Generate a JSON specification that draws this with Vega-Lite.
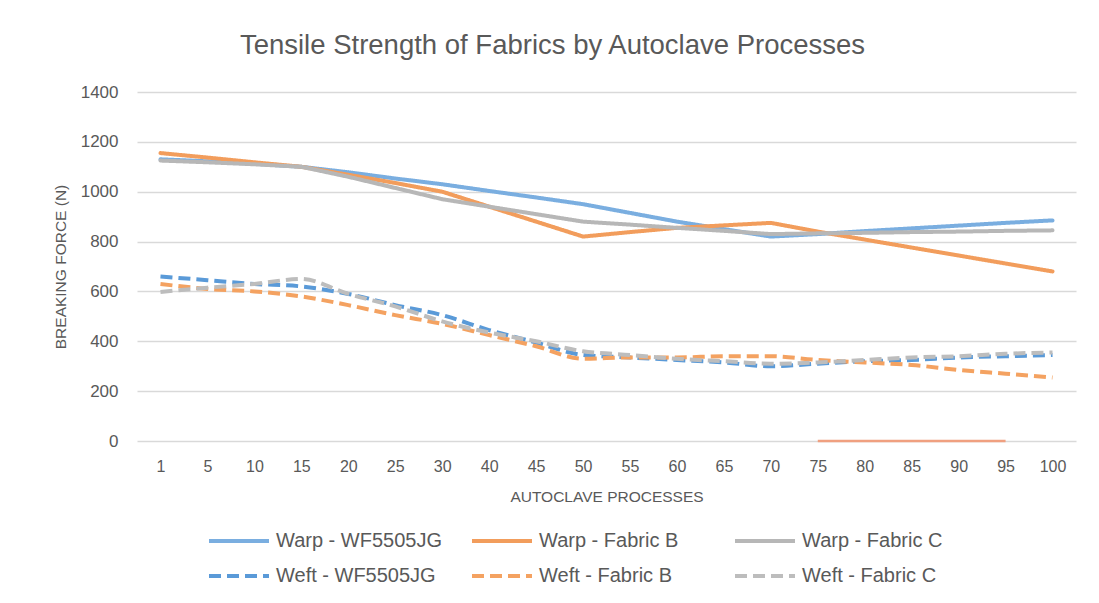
{
  "$schema": "https://vega.github.io/schema/vega-lite/v6.json",
  "width": 939,
  "height": 349,
  "autosize": {"type": "none"},
  "padding": {"left": 137, "top": 92, "right": 23, "bottom": 162},
  "background": "white",
  "title": {"text": "Tensile Strength of Fabrics by Autoclave Processes", "fontSize": 27.5, "font": "Liberation Sans", "fontWeight": "normal", "color": "#595959", "anchor": "middle", "dx": -54, "offset": 24},
  "config": {
    "view": {"stroke": null},
    "font": "Liberation Sans"
  },
  "datasets": {
    "main": [
      {"p": 1, "s": "Warp - WF5505JG", "f": 1130}, {"p": 5, "s": "Warp - WF5505JG", "f": 1122}, {"p": 10, "s": "Warp - WF5505JG", "f": 1112}, {"p": 15, "s": "Warp - WF5505JG", "f": 1100}, {"p": 20, "s": "Warp - WF5505JG", "f": 1078}, {"p": 25, "s": "Warp - WF5505JG", "f": 1053}, {"p": 30, "s": "Warp - WF5505JG", "f": 1030}, {"p": 40, "s": "Warp - WF5505JG", "f": 1003}, {"p": 45, "s": "Warp - WF5505JG", "f": 977}, {"p": 50, "s": "Warp - WF5505JG", "f": 950}, {"p": 55, "s": "Warp - WF5505JG", "f": 915}, {"p": 60, "s": "Warp - WF5505JG", "f": 880}, {"p": 65, "s": "Warp - WF5505JG", "f": 850}, {"p": 70, "s": "Warp - WF5505JG", "f": 820}, {"p": 75, "s": "Warp - WF5505JG", "f": 830}, {"p": 80, "s": "Warp - WF5505JG", "f": 842}, {"p": 85, "s": "Warp - WF5505JG", "f": 853}, {"p": 90, "s": "Warp - WF5505JG", "f": 864}, {"p": 95, "s": "Warp - WF5505JG", "f": 875}, {"p": 100, "s": "Warp - WF5505JG", "f": 885},
      {"p": 1, "s": "Warp - Fabric B", "f": 1155}, {"p": 5, "s": "Warp - Fabric B", "f": 1137}, {"p": 10, "s": "Warp - Fabric B", "f": 1118}, {"p": 15, "s": "Warp - Fabric B", "f": 1100}, {"p": 20, "s": "Warp - Fabric B", "f": 1068}, {"p": 25, "s": "Warp - Fabric B", "f": 1035}, {"p": 30, "s": "Warp - Fabric B", "f": 1000}, {"p": 40, "s": "Warp - Fabric B", "f": 940}, {"p": 45, "s": "Warp - Fabric B", "f": 880}, {"p": 50, "s": "Warp - Fabric B", "f": 820}, {"p": 55, "s": "Warp - Fabric B", "f": 838}, {"p": 60, "s": "Warp - Fabric B", "f": 855}, {"p": 65, "s": "Warp - Fabric B", "f": 865}, {"p": 70, "s": "Warp - Fabric B", "f": 875}, {"p": 75, "s": "Warp - Fabric B", "f": 840}, {"p": 80, "s": "Warp - Fabric B", "f": 808}, {"p": 85, "s": "Warp - Fabric B", "f": 776}, {"p": 90, "s": "Warp - Fabric B", "f": 744}, {"p": 95, "s": "Warp - Fabric B", "f": 712}, {"p": 100, "s": "Warp - Fabric B", "f": 680},
      {"p": 1, "s": "Warp - Fabric C", "f": 1125}, {"p": 5, "s": "Warp - Fabric C", "f": 1118}, {"p": 10, "s": "Warp - Fabric C", "f": 1110}, {"p": 15, "s": "Warp - Fabric C", "f": 1100}, {"p": 20, "s": "Warp - Fabric C", "f": 1060}, {"p": 25, "s": "Warp - Fabric C", "f": 1015}, {"p": 30, "s": "Warp - Fabric C", "f": 970}, {"p": 40, "s": "Warp - Fabric C", "f": 940}, {"p": 45, "s": "Warp - Fabric C", "f": 910}, {"p": 50, "s": "Warp - Fabric C", "f": 880}, {"p": 55, "s": "Warp - Fabric C", "f": 868}, {"p": 60, "s": "Warp - Fabric C", "f": 855}, {"p": 65, "s": "Warp - Fabric C", "f": 843}, {"p": 70, "s": "Warp - Fabric C", "f": 830}, {"p": 75, "s": "Warp - Fabric C", "f": 833}, {"p": 80, "s": "Warp - Fabric C", "f": 835}, {"p": 85, "s": "Warp - Fabric C", "f": 838}, {"p": 90, "s": "Warp - Fabric C", "f": 840}, {"p": 95, "s": "Warp - Fabric C", "f": 843}, {"p": 100, "s": "Warp - Fabric C", "f": 845},
      {"p": 1, "s": "Weft - WF5505JG", "f": 660}, {"p": 5, "s": "Weft - WF5505JG", "f": 645}, {"p": 10, "s": "Weft - WF5505JG", "f": 630}, {"p": 15, "s": "Weft - WF5505JG", "f": 620}, {"p": 20, "s": "Weft - WF5505JG", "f": 590}, {"p": 25, "s": "Weft - WF5505JG", "f": 545}, {"p": 30, "s": "Weft - WF5505JG", "f": 505}, {"p": 40, "s": "Weft - WF5505JG", "f": 445}, {"p": 45, "s": "Weft - WF5505JG", "f": 395}, {"p": 50, "s": "Weft - WF5505JG", "f": 345}, {"p": 55, "s": "Weft - WF5505JG", "f": 335}, {"p": 60, "s": "Weft - WF5505JG", "f": 325}, {"p": 65, "s": "Weft - WF5505JG", "f": 315}, {"p": 70, "s": "Weft - WF5505JG", "f": 300}, {"p": 75, "s": "Weft - WF5505JG", "f": 310}, {"p": 80, "s": "Weft - WF5505JG", "f": 320}, {"p": 85, "s": "Weft - WF5505JG", "f": 325}, {"p": 90, "s": "Weft - WF5505JG", "f": 335}, {"p": 95, "s": "Weft - WF5505JG", "f": 340}, {"p": 100, "s": "Weft - WF5505JG", "f": 345},
      {"p": 1, "s": "Weft - Fabric B", "f": 630}, {"p": 5, "s": "Weft - Fabric B", "f": 610}, {"p": 10, "s": "Weft - Fabric B", "f": 600}, {"p": 15, "s": "Weft - Fabric B", "f": 580}, {"p": 20, "s": "Weft - Fabric B", "f": 545}, {"p": 25, "s": "Weft - Fabric B", "f": 505}, {"p": 30, "s": "Weft - Fabric B", "f": 470}, {"p": 40, "s": "Weft - Fabric B", "f": 425}, {"p": 45, "s": "Weft - Fabric B", "f": 380}, {"p": 50, "s": "Weft - Fabric B", "f": 330}, {"p": 55, "s": "Weft - Fabric B", "f": 335}, {"p": 60, "s": "Weft - Fabric B", "f": 335}, {"p": 65, "s": "Weft - Fabric B", "f": 340}, {"p": 70, "s": "Weft - Fabric B", "f": 340}, {"p": 75, "s": "Weft - Fabric B", "f": 325}, {"p": 80, "s": "Weft - Fabric B", "f": 315}, {"p": 85, "s": "Weft - Fabric B", "f": 305}, {"p": 90, "s": "Weft - Fabric B", "f": 285}, {"p": 95, "s": "Weft - Fabric B", "f": 270}, {"p": 100, "s": "Weft - Fabric B", "f": 255},
      {"p": 1, "s": "Weft - Fabric C", "f": 598}, {"p": 5, "s": "Weft - Fabric C", "f": 615}, {"p": 10, "s": "Weft - Fabric C", "f": 630}, {"p": 15, "s": "Weft - Fabric C", "f": 650}, {"p": 20, "s": "Weft - Fabric C", "f": 590}, {"p": 25, "s": "Weft - Fabric C", "f": 540}, {"p": 30, "s": "Weft - Fabric C", "f": 480}, {"p": 40, "s": "Weft - Fabric C", "f": 435}, {"p": 45, "s": "Weft - Fabric C", "f": 400}, {"p": 50, "s": "Weft - Fabric C", "f": 360}, {"p": 55, "s": "Weft - Fabric C", "f": 345}, {"p": 60, "s": "Weft - Fabric C", "f": 330}, {"p": 65, "s": "Weft - Fabric C", "f": 320}, {"p": 70, "s": "Weft - Fabric C", "f": 310}, {"p": 75, "s": "Weft - Fabric C", "f": 315}, {"p": 80, "s": "Weft - Fabric C", "f": 325}, {"p": 85, "s": "Weft - Fabric C", "f": 335}, {"p": 90, "s": "Weft - Fabric C", "f": 340}, {"p": 95, "s": "Weft - Fabric C", "f": 350}, {"p": 100, "s": "Weft - Fabric C", "f": 355}
    ],
    "zero": [
      {"p": 75, "f": 0}, {"p": 95, "f": 0}
    ]
  },
  "encoding": {
    "x": {
      "field": "p", "type": "ordinal",
      "scale": {"type": "point", "padding": 0.5},
      "axis": {"title": "AUTOCLAVE PROCESSES", "titleFontSize": 15.5, "titleFontWeight": "normal", "titleColor": "#595959", "titlePadding": 15, "labelAngle": 0, "labelFontSize": 16, "labelColor": "#595959", "labelPadding": 17, "domain": false, "ticks": false, "grid": false}
    },
    "y": {
      "field": "f", "type": "quantitative",
      "scale": {"domain": [0, 1400], "nice": false},
      "axis": {"title": "BREAKING FORCE (N)", "titleFontSize": 15.5, "titleFontWeight": "normal", "titleColor": "#595959", "titlePadding": 12, "values": [0, 200, 400, 600, 800, 1000, 1200, 1400], "format": "d", "labelFontSize": 17, "labelColor": "#595959", "labelPadding": 19, "domain": false, "ticks": false, "gridColor": "#D9D9D9", "gridWidth": 1.3}
    }
  },
  "layer": [
    {
      "data": {"name": "main"},
      "transform": [{"filter": {"field": "s", "oneOf": ["Warp - WF5505JG", "Warp - Fabric B", "Warp - Fabric C"]}}],
      "mark": {"type": "line", "strokeWidth": 4, "strokeCap": "round", "strokeJoin": "round"},
      "encoding": {
        "color": {"field": "s", "type": "nominal",
          "scale": {"domain": ["Warp - WF5505JG", "Warp - Fabric B", "Warp - Fabric C", "Weft - WF5505JG", "Weft - Fabric B", "Weft - Fabric C"], "range": ["#7AAEE0", "#F29D5C", "#B7B7B7", "#5A9AD8", "#F4A261", "#BDBDBD"]},
          "legend": {"title": null, "orient": "none", "legendX": 70, "legendY": 438, "columns": 3, "direction": "horizontal", "gridAlign": "all", "symbolType": "stroke", "symbolSize": 3600, "symbolStrokeWidth": 4, "labelFontSize": 20, "labelLimit": 400, "labelColor": "#595959", "labelOffset": 5, "clipHeight": 22, "rowPadding": 13, "columnPadding": 28}
        },
        "strokeDash": {"field": "s", "type": "nominal",
          "scale": {"domain": ["Warp - WF5505JG", "Warp - Fabric B", "Warp - Fabric C", "Weft - WF5505JG", "Weft - Fabric B", "Weft - Fabric C"], "range": [[1, 0], [1, 0], [1, 0], [12, 6], [12, 6], [12, 6]]}
        }
      }
    },
    {
      "data": {"name": "main"},
      "transform": [{"filter": {"field": "s", "oneOf": ["Weft - WF5505JG", "Weft - Fabric B", "Weft - Fabric C"]}}],
      "mark": {"type": "line", "strokeWidth": 4, "interpolate": "monotone", "strokeJoin": "round"},
      "encoding": {
        "color": {"field": "s", "type": "nominal"},
        "strokeDash": {"field": "s", "type": "nominal"}
      }
    },
    {
      "data": {"name": "zero"},
      "mark": {"type": "line", "strokeWidth": 2.5, "color": "#F0A080"},
      "encoding": {}
    }
  ]
}
